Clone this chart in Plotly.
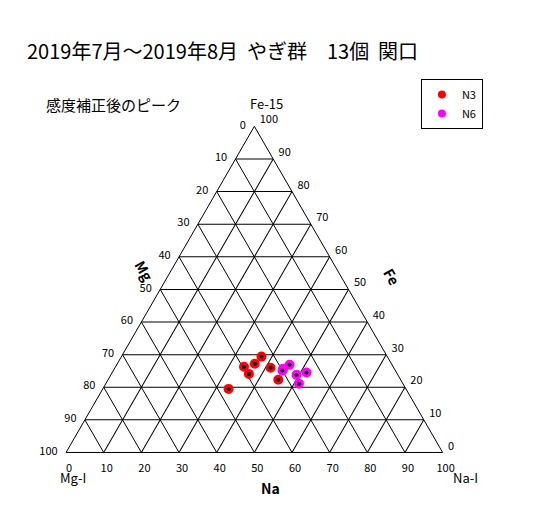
import plotly.graph_objects as go

# N3 / N6 samples: Fe, Na (%), Mg = 100 - Fe - Na
n3_fe = [19.5, 26.3, 24.1, 27.2, 29.4, 26.0, 22.3]
n3_na = [33.4, 34.1, 36.5, 36.5, 37.2, 41.3, 45.2]
n6_fe = [25.7, 26.9, 25.1, 23.8, 21.1, 24.5]
n6_na = [44.8, 45.9, 44.9, 49.3, 51.3, 51.6]
ticks = [0, 10, 20, 30, 40, 50, 60, 70, 80, 90, 100]

n3_mg = [100 - f - n for f, n in zip(n3_fe, n3_na)]
n6_mg = [100 - f - n for f, n in zip(n6_fe, n6_na)]

fig = go.Figure()
fig.add_trace(go.Scatterternary(a=n3_fe, b=n3_mg, c=n3_na, mode="markers", name="N3",
                                marker=dict(color="black", size=7, line=dict(color="red", width=3))))
fig.add_trace(go.Scatterternary(a=n6_fe, b=n6_mg, c=n6_na, mode="markers", name="N6",
                                marker=dict(color="black", size=7, line=dict(color="magenta", width=3))))

# legend symbols: plain coloured dots
fig.update_traces(showlegend=False)
fig.add_trace(go.Scatterternary(a=[None], b=[None], c=[None], mode="markers", name="N3",
                                marker=dict(color="red", size=8)))
fig.add_trace(go.Scatterternary(a=[None], b=[None], c=[None], mode="markers", name="N6",
                                marker=dict(color="magenta", size=8)))

def ax(text_fn):
    return dict(tickmode="array", tickvals=ticks, ticktext=[str(text_fn(t)) for t in ticks],
                linecolor="black", linewidth=1, gridcolor="black", gridwidth=1,
                ticks="outside", ticklen=6, tickcolor="white",
                showgrid=True, tickfont=dict(size=11, color="black"), title="")

fig.update_layout(
    width=558, height=526,
    paper_bgcolor="white",
    font=dict(family="Noto Sans CJK JP", color="black"),
    margin=dict(l=0, r=0, t=0, b=0),
    ternary=dict(
        domain=dict(x=[0.095, 0.788], y=[0.155, 0.775]),
        bgcolor="white", sum=100,
        aaxis=ax(lambda t: 100 - t),
        baxis=ax(lambda t: 100 - t),
        caxis=ax(lambda t: 100 - t),
    ),
    legend=dict(x=0.74, y=0.865, xanchor="left", yanchor="top", bordercolor="black",
                borderwidth=1, font=dict(size=11), itemwidth=30, tracegroupgap=10),
    annotations=[
        dict(text="2019年7月～2019年8月  やぎ群　13個  関口", x=0.03, y=0.95, xref="paper", yref="paper",
             xanchor="left", showarrow=False, font=dict(size=20)),
        dict(text="感度補正後のピーク", x=0.065, y=0.84, xref="paper", yref="paper",
             xanchor="left", showarrow=False, font=dict(size=15)),
        dict(text="Fe-15", x=0.43, y=0.84, xref="paper", yref="paper",
             xanchor="left", showarrow=False, font=dict(size=13)),
        dict(text="<b>Mg</b>", x=0.215, y=0.5, xref="paper", yref="paper",
             showarrow=False, textangle=60, font=dict(size=14)),
        dict(text="<b>Fe</b>", x=0.715, y=0.49, xref="paper", yref="paper",
             showarrow=False, textangle=60, font=dict(size=14)),
        dict(text="<b>Na</b>", x=0.47, y=0.065, xref="paper", yref="paper",
             showarrow=False, font=dict(size=14)),
        dict(text="Mg-I", x=0.09, y=0.085, xref="paper", yref="paper",
             showarrow=False, font=dict(size=13)),
        dict(text="Na-I", x=0.845, y=0.085, xref="paper", yref="paper",
             showarrow=False, font=dict(size=13)),
    ],
)
fig.write_html("out.html")
